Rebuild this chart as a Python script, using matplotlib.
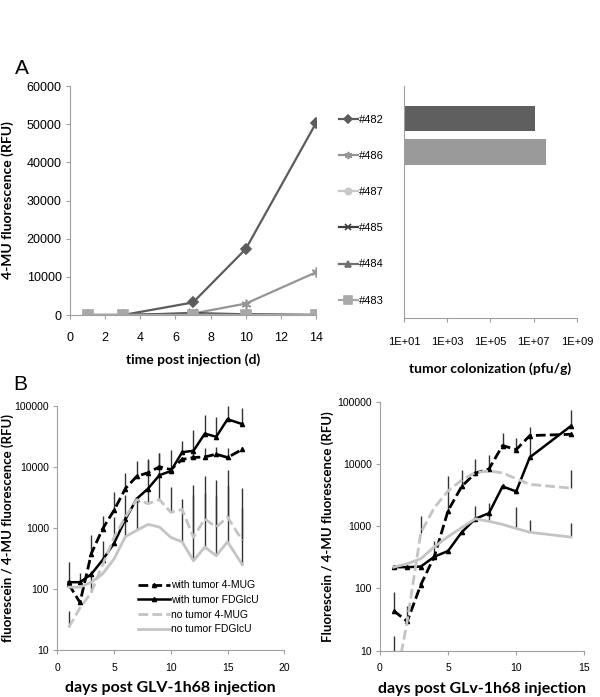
import numpy as np
import matplotlib.pyplot as plt
from matplotlib.ticker import NullLocator

plt.rcParams['font.family'] = ['Liberation Sans', 'DejaVu Sans']
nan = np.nan

# ---- panel A : 4-MU fluorescence per mouse ----
days_a = [1, 3, 7, 10, 14]
mice = ['#482', '#486', '#487', '#485', '#484', '#483']
rfu_482 = [0, 0, 3300, 17300, 50300]
rfu_486 = [0, 0, 400, 3000, 11200]
rfu_487 = [0, 0, 100, 100, 100]
rfu_485 = [0, 0, 500, 200, 0]
rfu_484 = [0, 0, 200, 100, 0]
rfu_483 = [0, 0, 0, 0, 0]
# tumor colonization (pfu/g), same mouse order
colon_pfu = [1.15e7, 3.7e7, 0, 0, 0, 0]

# ---- panel B left ----
days_bl = [1, 2, 3, 4, 5, 6, 7, 8, 9, 10, 11, 12, 13, 14, 15, 16.3]
tumor_mug_l = [120, 60, 380, 970, 1940, 4400, 7000, 8000, 10000, 9000, 13200, 14200, 14500, 16100, 14200, 19300]
tumor_mug_l_hi = [nan, nan, 760, 1550, 3800, 8000, 12500, 13500, 17000, 19000, nan, 19000, 20000, 21000, 20000, nan]
tumor_fdg_l = [129, 129, 175, 300, 560, 1380, 3000, 4400, 7300, 8500, 17300, 18300, 35000, 31000, 60000, 50000]
tumor_fdg_l_hi = [280, 180, nan, 620, 1500, 3500, nan, nan, nan, nan, 26000, 40000, 70000, 66000, 100000, 92000]
free_mug_l = [23.5, 49, 88, 250, 700, 1500, 2900, 2500, 2900, 1800, 2000, 700, 1400, 1030, 1500, 620]
free_mug_l_hi = [44, nan, 200, nan, nan, nan, nan, 13000, 17000, 4600, nan, 5000, 7000, 6000, 9000, 4500]
free_fdg_l = [107, 107, 129, 177, 310, 720, 910, 1140, 1030, 700, 590, 290, 485, 350, 590, 250]
free_fdg_l_hi = [nan, nan, nan, nan, nan, 1600, 3000, nan, nan, nan, 3000, 3500, 3700, 3300, 4800, 2100]

# ---- panel B right ----
days_br = [1, 2, 3, 4, 5, 6, 7, 8, 9, 10, 11, 14]
tumor_mug_r = [44, 29.5, 115, 330, 1780, 4360, 7150, 8300, 19800, 17000, 28600, 30000]
tumor_mug_r_hi = [88, 52, nan, 580, 6300, 8100, 12000, 14000, 31000, 26000, nan, nan]
tumor_fdg_r = [220, 220, 225, 325, 400, 800, 1320, 1620, 4360, 3620, 12800, 40500]
tumor_fdg_r_hi = [nan, nan, nan, nan, nan, nan, nan, nan, nan, nan, 39000, 75000]
free_mug_r = [2, 30, 790, 2000, 3700, 5500, 7300, 7700, 7200, 5800, 4700, 4100]
free_mug_r_hi = [17, nan, 1470, nan, nan, nan, nan, nan, nan, nan, nan, 8100]
free_fdg_r = [220, 250, 300, 470, 680, 950, 1320, 1200, 1070, 920, 800, 670]
free_fdg_r_hi = [nan, nan, nan, nan, nan, nan, 2130, 2350, nan, 2000, 1240, 1130]

series_names = ['with tumor 4-MUG', 'with tumor FDGlcU', 'no tumor 4-MUG', 'no tumor FDGlcU']
log_ticks = [10, 100, 1000, 10000, 100000]
log_labels = ['10', '100', '1000', '10000', '100000']
pfu_ticks = [1e1, 1e3, 1e5, 1e7, 1e9]
pfu_labels = ['1E+01', '1E+03', '1E+05', '1E+07', '1E+09']

spine_col = '#a0a0a0'
lab_font = dict(family=['Lato', 'DejaVu Sans'], weight='bold')


def style(ax, size):
    for s in ['top', 'right']:
        ax.spines[s].set_visible(False)
    for s in ['left', 'bottom']:
        ax.spines[s].set_color(spine_col)
    ax.tick_params(direction='out', length=3, color=spine_col, labelsize=size, pad=3)


fig = plt.figure(figsize=(6.0, 6.97), dpi=100)

# ---------------- A left ----------------
ax1 = fig.add_axes([0.1167, 0.548, 0.41, 0.3286])
cols_a = ['#5c5c5c', '#959595', '#c8c8c8', '#3e3e3e', '#707070', '#a8a8a8']
marks_a = ['D', (6, 2, 0), 'o', 'x', '^', 's']
sizes_a = [5, 7, 6, 6, 6, 7]
handles = []
for name, vals, c, m, ms in zip(mice, [rfu_482, rfu_486, rfu_487, rfu_485, rfu_484, rfu_483],
                                cols_a, marks_a, sizes_a):
    h, = ax1.plot(days_a, vals, color=c, lw=1.6, marker=m, ms=ms, mew=1.2, label=name)
    handles.append(h)
ax1.set_xlim(0, 14)
ax1.set_ylim(0, 60000)
ax1.set_xticks(range(0, 15, 2))
ax1.set_yticks(range(0, 60001, 10000))
style(ax1, 9)
ax1.tick_params(axis='x', pad=9)
ax1.set_xlabel('time post injection (d)', fontsize=10, labelpad=7, **lab_font)
ax1.set_ylabel('4-MU fluorescence (RFU)', fontsize=10, **lab_font)
ax1.yaxis.set_label_coords(-0.228, 0.5)

fig.legend(handles=handles, loc='upper left', bbox_to_anchor=(0.565, 1 - 115 / 697),
           frameon=False, fontsize=8, handlelength=1.7, handletextpad=0.1, markerscale=0.75,
           labelspacing=2.35, borderpad=0, borderaxespad=0)

# ---------------- A right ----------------
ax2 = fig.add_axes([0.6733, 0.5438, 0.2883, 0.3329])
pos = np.arange(len(mice))
colon = np.array(colon_pfu)
ax2.barh(pos, np.where(colon > 10, colon - 10, 0), left=10, height=0.76,
         color=['#5f5f5f', '#9a9a9a', '#c8c8c8', '#3e3e3e', '#707070', '#a8a8a8'])
ax2.set_xscale('log')
ax2.set_xlim(10, 1e9)
ax2.set_ylim(5.96, -0.97)
ax2.set_xticks(pfu_ticks)
ax2.set_xticklabels(pfu_labels)
ax2.xaxis.set_minor_locator(NullLocator())
ax2.set_yticks([])
style(ax2, 8)
ax2.tick_params(axis='x', pad=11)
ax2.set_xlabel('tumor colonization (pfu/g)', fontsize=10, labelpad=11, **lab_font)

# ---------------- B panels ----------------
def panel_b(ax, days, sets):
    styles = [dict(color='black', ls=(0, (3.5, 1.5)), lw=2.0, marker='^', ms=3),
              dict(color='black', ls='-', lw=1.8, marker='^', ms=3),
              dict(color='#c4c4c4', ls=(0, (3.5, 1.5)), lw=2.0),
              dict(color='#c4c4c4', ls='-', lw=2.0)]
    for (vals, hi), st, name in zip(sets, styles, series_names):
        ax.plot(days, vals, label=name, **st)
    for vals, hi in sets:
        v = np.array(vals, dtype=float)
        t = np.array(hi, dtype=float)
        ok = ~np.isnan(t)
        ax.vlines(np.array(days)[ok], v[ok], t[ok], color='#333333', lw=1.0, zorder=1)
    ax.set_yscale('log')
    ax.set_ylim(10, 100000)
    ax.set_yticks(log_ticks)
    ax.set_yticklabels(log_labels)
    ax.yaxis.set_minor_locator(NullLocator())
    style(ax, 7.5)


ax3 = fig.add_axes([0.0955, 0.0674, 0.3783, 0.3505])
panel_b(ax3, days_bl, [(tumor_mug_l, tumor_mug_l_hi), (tumor_fdg_l, tumor_fdg_l_hi),
                       (free_mug_l, free_mug_l_hi), (free_fdg_l, free_fdg_l_hi)])
ax3.set_xlim(0, 20)
ax3.set_xticks(range(0, 21, 5))
ax3.tick_params(axis='x', pad=6)
ax3.set_xlabel('days post GLV-1h68 injection', fontsize=11.5, labelpad=6, **lab_font)
ax3.set_ylabel('fluorescein / 4-MU fluorescence (RFU)', fontsize=9.5, **lab_font)
ax3.yaxis.set_label_coords(-0.19, 0.5)
ax3.legend(loc='upper left', bbox_to_anchor=(0.355, 0.285), frameon=False, fontsize=7.5,
           handlelength=3.1, handletextpad=0.1, labelspacing=0.45, borderpad=0, borderaxespad=0)

ax4 = fig.add_axes([0.6333, 0.0664, 0.3405, 0.3572])
panel_b(ax4, days_br, [(tumor_mug_r, tumor_mug_r_hi), (tumor_fdg_r, tumor_fdg_r_hi),
                       (free_mug_r, free_mug_r_hi), (free_fdg_r, free_fdg_r_hi)])
ax4.set_xlim(0, 15)
ax4.set_xticks(range(0, 16, 5))
ax4.tick_params(axis='x', pad=6)
ax4.set_xlabel('days post GLv-1h68 injection', fontsize=11.5, labelpad=6, **lab_font)
ax4.set_ylabel('Fluorescein / 4-MU fluorescence (RFU)', fontsize=9.5, **lab_font)
ax4.yaxis.set_label_coords(-0.225, 0.5)

fig.text(0.025, 1 - 68 / 697, 'A', fontsize=15, va='center')
fig.text(0.022, 1 - 385 / 697, 'B', fontsize=15, va='center')

fig.savefig('out.png', dpi=100)
